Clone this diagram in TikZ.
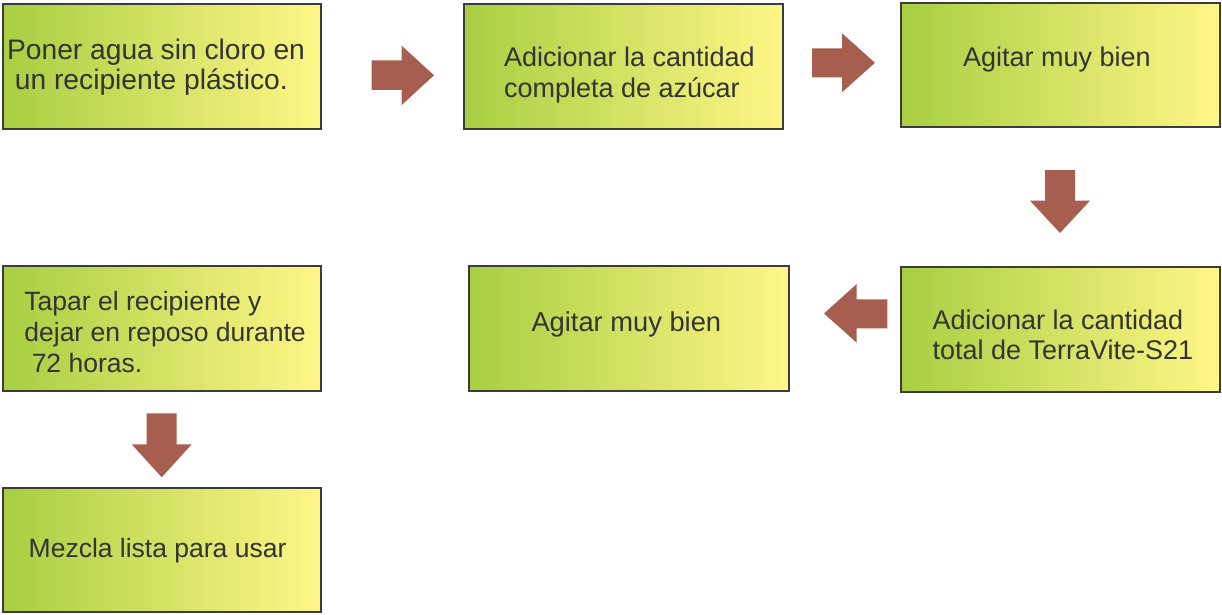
\documentclass[tikz,border=0pt]{standalone}
\usepackage{fontspec}
\setmainfont{Liberation Sans}
\definecolor{boxL}{RGB}{168,206,66}
\definecolor{boxR}{RGB}{255,246,134}
\definecolor{boxLine}{RGB}{60,60,60}
\definecolor{arrowFill}{RGB}{166,94,78}
\definecolor{txtCol}{RGB}{51,51,51}
\tikzset{
  stepbox/.style={draw=boxLine, line width=2.5pt, left color=boxL, right color=boxR,
    inner sep=0pt, outer sep=0pt},
  txt/.style={anchor=base west, inner sep=0pt, outer sep=0pt, text=txtCol,
    font=\fontsize{27}{31}\selectfont},
  blockarrow/.style={fill=arrowFill, draw=none}
}
\begin{document}
\begin{tikzpicture}[x=1pt,y=-1pt]
\useasboundingbox (0,0) rectangle (1222,615);
% boxes
\node[stepbox, minimum width=318pt, minimum height=125pt] (b1) at (162,66.5) {};
\node[stepbox, minimum width=319pt, minimum height=125pt] (b2) at (623.5,66.5) {};
\node[stepbox, minimum width=319pt, minimum height=124pt] (b3) at (1060.5,65) {};
\node[stepbox, minimum width=319pt, minimum height=125pt] (b4) at (1060.5,329.5) {};
\node[stepbox, minimum width=320pt, minimum height=125pt] (b5) at (629,328.5) {};
\node[stepbox, minimum width=318pt, minimum height=125pt] (b6) at (162,328.5) {};
\node[stepbox, minimum width=318pt, minimum height=124pt] (b7) at (162,550) {};
% texts
\node[txt, font=\fontsize{28.2}{30.7}\selectfont] (t1) at (7.1,59.3) {\vtop{\hbox{Poner agua sin cloro en}\hbox{\ un recipiente plástico.}}};
\node[txt] (t2) at (504,66.5) {\vtop{\hbox{Adicionar la cantidad}\hbox{completa de azúcar}}};
\node[txt] (t3) at (963,67) {Agitar muy bien};
\node[txt] (t4) at (932.5,329) {\vtop{\baselineskip=30.5pt\hbox{Adicionar la cantidad}\hbox{total de TerraVite-S21}}};
\node[txt, font=\fontsize{27.3}{31}\selectfont] (t5) at (531.5,331) {Agitar muy bien};
\node[txt, font=\fontsize{26.5}{31}\selectfont] (t6) at (24.4,310.5) {\vtop{\hbox{Tapar el recipiente y}\hbox{dejar en reposo durante}\hbox{\ 72 horas.}}};
\node[txt, font=\fontsize{26.5}{31}\selectfont] (t7) at (28.7,557.5) {Mezcla lista para usar};
% block arrows
\fill[blockarrow] (371.5,60.5) -- (401.7,60.5) -- (401.7,45.7) -- (434,75.3) -- (401.7,105) -- (401.7,90) -- (371.5,90) -- cycle;
\fill[blockarrow] (812,48.3) -- (842,48.3) -- (842,33.3) -- (875,62.8) -- (842,92.3) -- (842,77.3) -- (812,77.3) -- cycle;
\fill[blockarrow] (1045,170) -- (1075,170) -- (1075,200.7) -- (1090,200.7) -- (1060,233) -- (1030,200.7) -- (1045,200.7) -- cycle;
\fill[blockarrow] (887.3,299.3) -- (856.7,299.3) -- (856.7,284) -- (824,313.5) -- (856.7,342.7) -- (856.7,328.3) -- (887.3,328.3) -- cycle;
\fill[blockarrow] (146.7,413.3) -- (176.7,413.3) -- (176.7,444.3) -- (191.7,444.3) -- (161.7,477.3) -- (131.7,444.3) -- (146.7,444.3) -- cycle;
\end{tikzpicture}
\end{document}
